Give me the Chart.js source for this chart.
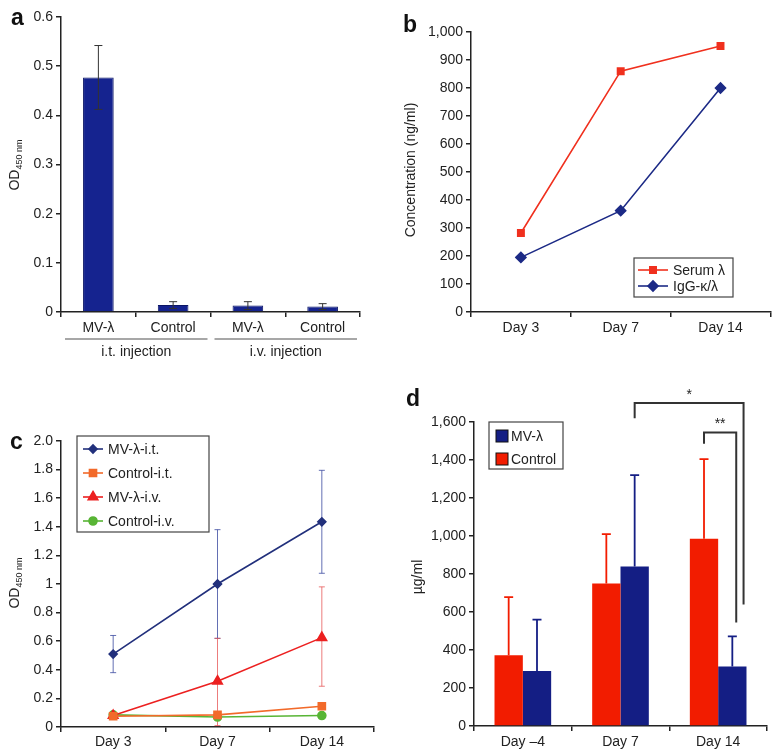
<!DOCTYPE html>
<html><head><meta charset="utf-8">
<script src="https://cdn.jsdelivr.net/npm/chart.js@4.4.1/dist/chart.umd.min.js"></script>
<style>
body{margin:0;background:#fff;width:777px;height:756px;position:relative;overflow:hidden;font-family:"Liberation Sans",Arial,sans-serif;color:#222}
canvas.panel{position:absolute}
.plabel{position:absolute;font-weight:bold;font-size:23px;color:#111;line-height:1;transform:translate(0,-50%)}
.ytitle{position:absolute;font-size:14px;line-height:1;transform:translate(-50%,-50%) rotate(-90deg);white-space:nowrap;color:#222}
.ytitle sub{font-size:9px;vertical-align:-3px}
</style></head><body>
<canvas id="ca" class="panel" style="left:0;top:0" width="390" height="370"></canvas>
<canvas id="cb" class="panel" style="left:390px;top:0" width="387" height="370"></canvas>
<canvas id="cc" class="panel" style="left:0;top:370px" width="390" height="386"></canvas>
<canvas id="cd" class="panel" style="left:390px;top:370px" width="387" height="386"></canvas>
<div class="plabel" style="left:11px;top:17px">a</div>
<div class="plabel" style="left:403px;top:24px">b</div>
<div class="plabel" style="left:10px;top:441px">c</div>
<div class="plabel" style="left:406px;top:398px">d</div>
<div class="ytitle" style="left:15px;top:165px">OD<sub>450 nm</sub></div>
<div class="ytitle" style="left:410px;top:170px">Concentration (ng/ml)</div>
<div class="ytitle" style="left:15px;top:583px">OD<sub>450 nm</sub></div>
<div class="ytitle" style="left:417px;top:577px">µg/ml</div>
<script>
// ---------- data ----------
const aCategories = ['MV-λ', 'Control', 'MV-λ', 'Control'];
const aGroups = ['i.t. injection', 'i.v. injection'];
const aValues = [0.477, 0.014, 0.013, 0.011];
const aErrors = [0.065, 0.007, 0.008, 0.006];

const bDays = ['Day 3', 'Day 7', 'Day 14'];
const bSerumLambda = [282, 860, 950];
const bIgG = [195, 362, 800];

const cDays = ['Day 3', 'Day 7', 'Day 14'];
const cMVit = [0.51, 1.0, 1.435];
const cMVitErr = [0.13, 0.38, 0.36];
const cCtrlIt = [0.075, 0.085, 0.145];
const cMViv = [0.08, 0.32, 0.625];
const cMVivErrUp = [0, 0.30, 0.355];
const cMVivErrDown = [0, 0.31, 0.34];
const cCtrlIv = [0.085, 0.07, 0.08];

const dDays = ['Day \u20134', 'Day 7', 'Day 14'];
const dControl = [372, 750, 985];
const dControlErr = [306, 260, 420];
const dMV = [290, 840, 313];
const dMVErr = [270, 480, 159];
const dSignificance = [
  {label: '*', from: 1.145, to: 2.26, fromBase: 1620, toBase: 640, top: 1700},
  {label: '**', from: 1.855, to: 2.185, fromBase: 1485, toBase: 545, top: 1545}
];

// ---------- common ----------
const FONT = {family: '"Liberation Sans", Arial, sans-serif', size: 14};
const TXT = '#222';
const AX = '#222';

function axisX(h, pad) {
  return {
    offset: true,
    grid: {offset: true, drawOnChartArea: false, tickLength: 5, color: AX, lineWidth: 1.5},
    border: {color: AX, width: 1.5},
    ticks: {font: FONT, color: TXT, padding: pad},
    afterFit: s => { s.height = h; }
  };
}
function axisY(w, min, max, step, cb) {
  const o = {
    min, max,
    grid: {drawOnChartArea: false, tickLength: 5, color: AX, lineWidth: 1.5},
    border: {color: AX, width: 1.5},
    ticks: {font: FONT, color: TXT, padding: 3, stepSize: step},
    afterFit: s => { s.width = w; }
  };
  if (cb) o.ticks.callback = cb;
  return o;
}

const errorBars = {
  id: 'errorBars',
  draw(chart) {
    const ctx = chart.ctx, ys = chart.scales.y;
    chart.data.datasets.forEach((ds, i) => {
      if (!ds.errUp) return;
      const meta = chart.getDatasetMeta(i);
      meta.data.forEach((el, j) => {
        const v = ds.data[j];
        const up = ds.errUp[j] || 0;
        const dn = ds.errDown ? (ds.errDown[j] || 0) : 0;
        if (!up && !dn) return;
        const x = el.x;
        const yT = ys.getPixelForValue(v + up), yB = ys.getPixelForValue(v - dn);
        const c = ds.capW / 2;
        ctx.save();
        ctx.strokeStyle = ds.errColor; ctx.lineWidth = ds.errWidth;
        ctx.beginPath();
        ctx.moveTo(x, yT); ctx.lineTo(x, yB);
        ctx.moveTo(x - c, yT); ctx.lineTo(x + c, yT);
        if (ds.errDown) { ctx.moveTo(x - c, yB); ctx.lineTo(x + c, yB); }
        ctx.stroke();
        ctx.restore();
      });
    });
  },
  beforeDatasetsDraw(chart, a, o) { if (o.before) this.draw(chart); },
  afterDatasetsDraw(chart, a, o) { if (!o.before) this.draw(chart); }
};

const boxLegend = {
  id: 'boxLegend',
  afterDraw(chart, a, o) {
    if (!o.order) return;
    const ctx = chart.ctx;
    ctx.save();
    ctx.fillStyle = '#fff';
    ctx.fillRect(o.x, o.y, o.w, o.h);
    ctx.strokeStyle = '#444'; ctx.lineWidth = 1.2;
    ctx.strokeRect(o.x, o.y, o.w, o.h);
    ctx.font = FONT.size + 'px ' + FONT.family;
    ctx.textBaseline = 'middle';
    o.order.forEach((di, k) => {
      const ds = chart.data.datasets[di];
      const yy = o.rows[k];
      if (o.kind === 'box') {
        ctx.fillStyle = ds.backgroundColor;
        ctx.fillRect(o.sx, yy - 6, 12, 12);
        ctx.strokeStyle = '#111'; ctx.lineWidth = 1;
        ctx.strokeRect(o.sx, yy - 6, 12, 12);
      } else {
        ctx.strokeStyle = ds.borderColor; ctx.lineWidth = ds.borderWidth;
        ctx.beginPath(); ctx.moveTo(o.sx, yy); ctx.lineTo(o.sx + o.sw, yy); ctx.stroke();
        Chart.helpers.drawPoint(ctx, {pointStyle: ds.pointStyle, radius: ds.pointRadius, borderWidth: 1, rotation: 0},
          o.sx + o.sw / 2, yy);
        ctx.fillStyle = ds.pointBackgroundColor;
        ctx.fill();
      }
      ctx.fillStyle = TXT;
      ctx.fillText(ds.label, o.tx, yy + 1);
    });
    ctx.restore();
  }
};

const groupLabels = {
  id: 'groupLabels',
  afterDraw(chart, a, o) {
    if (!o.groups) return;
    const ctx = chart.ctx, xs = chart.scales.x, ca = chart.chartArea;
    const step = xs.getPixelForValue(1) - xs.getPixelForValue(0);
    ctx.save();
    ctx.font = FONT.size + 'px ' + FONT.family;
    ctx.textAlign = 'center'; ctx.textBaseline = 'middle';
    o.groups.forEach((g, k) => {
      const x0 = xs.getPixelForValue(k * o.size) - step / 2 + 4;
      const x1 = xs.getPixelForValue(k * o.size + o.size - 1) + step / 2 - 3;
      ctx.strokeStyle = '#8a8a8a'; ctx.lineWidth = 1.5;
      ctx.beginPath(); ctx.moveTo(x0, ca.bottom + o.lineDy); ctx.lineTo(x1, ca.bottom + o.lineDy); ctx.stroke();
      ctx.fillStyle = TXT;
      ctx.fillText(g, (x0 + x1) / 2, ca.bottom + o.textDy);
    });
    ctx.restore();
  }
};

const brackets = {
  id: 'brackets',
  afterDraw(chart, a, o) {
    if (!o.items) return;
    const ctx = chart.ctx, xs = chart.scales.x, ys = chart.scales.y;
    ctx.save();
    ctx.strokeStyle = '#333'; ctx.lineWidth = 2;
    ctx.font = FONT.size + 'px ' + FONT.family;
    ctx.textAlign = 'center'; ctx.textBaseline = 'bottom'; ctx.fillStyle = '#222';
    o.items.forEach(b => {
      const x0 = xs.getPixelForValue(b.from), x1 = xs.getPixelForValue(b.to);
      const yt = ys.getPixelForValue(b.top);
      ctx.beginPath();
      ctx.moveTo(x0, ys.getPixelForValue(b.fromBase));
      ctx.lineTo(x0, yt); ctx.lineTo(x1, yt);
      ctx.lineTo(x1, ys.getPixelForValue(b.toBase));
      ctx.stroke();
      ctx.fillText(b.label, (x0 + x1) / 2, yt - 1);
    });
    ctx.restore();
  }
};

Chart.register(errorBars, boxLegend, groupLabels, brackets);
Chart.defaults.font.family = FONT.family;
Chart.defaults.animation = false;
Chart.defaults.responsive = false;
Chart.defaults.plugins.legend.display = false;
Chart.defaults.plugins.tooltip.enabled = false;

const r1 = v => { const r = Math.round(v * 10) / 10; return r === 0 ? '0' : (r === 1 ? '1' : r.toFixed(1)); };

// ---------- a ----------
new Chart(document.getElementById('ca'), {
  type: 'bar',
  data: {labels: aCategories, datasets: [{
    data: aValues, backgroundColor: '#15238f', borderColor: '#0b1565', borderWidth: 1,
    categoryPercentage: 1, barPercentage: 0.41,
    errUp: aErrors, errDown: aErrors, errColor: '#333', errWidth: 1, capW: 8
  }]},
  options: {
    layout: {padding: {top: 17, right: 30, left: 0, bottom: 0}},
    plugins: {groupLabels: {groups: aGroups, size: 2, lineDy: 27, textDy: 40}},
    scales: {x: axisX(58, 3), y: axisY(61, 0, 0.6, 0.1, v => { const r = Math.round(v * 10) / 10; return r === 0 ? '0' : String(r); })}
  }
});

// ---------- b ----------
new Chart(document.getElementById('cb'), {
  type: 'line',
  data: {labels: bDays, datasets: [
    {label: 'Serum λ', data: bSerumLambda, borderColor: '#f0301e', backgroundColor: '#f0301e',
     pointBackgroundColor: '#f0301e', pointBorderColor: '#f0301e', pointStyle: 'rect', pointRadius: 4.5, borderWidth: 1.6},
    {label: 'IgG-κ/λ', data: bIgG, borderColor: '#1c2a86', backgroundColor: '#1c2a86',
     pointBackgroundColor: '#1c2a86', pointBorderColor: '#1c2a86', pointStyle: 'rectRot', pointRadius: 5, borderWidth: 1.6}
  ]},
  options: {
    layout: {padding: {top: 32, right: 5, left: 0, bottom: 0}},
    plugins: {boxLegend: {order: [0, 1], x: 244, y: 258, w: 99, h: 39, rows: [270, 286], sx: 248, sw: 30, tx: 283}},
    scales: {x: axisX(58, 3), y: axisY(81, 0, 1000, 100)}
  }
});

// ---------- c ----------
new Chart(document.getElementById('cc'), {
  type: 'line',
  data: {labels: cDays, datasets: [
    {label: 'MV-λ-i.t.', data: cMVit, borderColor: '#22307c', pointBackgroundColor: '#22307c', pointBorderColor: '#22307c',
     pointStyle: 'rectRot', pointRadius: 4, borderWidth: 1.6,
     errUp: cMVitErr, errDown: cMVitErr, errColor: 'rgba(60,75,160,0.8)', errWidth: 1, capW: 6},
    {label: 'Control-i.t.', data: cCtrlIt, borderColor: '#f26a2a', pointBackgroundColor: '#f26a2a', pointBorderColor: '#f26a2a',
     pointStyle: 'rect', pointRadius: 5, borderWidth: 1.6},
    {label: 'MV-λ-i.v.', data: cMViv, borderColor: '#ec2020', pointBackgroundColor: '#ec2020', pointBorderColor: '#ec2020',
     pointStyle: 'triangle', pointRadius: 5.5, borderWidth: 1.6,
     errUp: cMVivErrUp, errDown: cMVivErrDown, errColor: 'rgba(230,80,80,0.75)', errWidth: 1, capW: 6},
    {label: 'Control-i.v.', data: cCtrlIv, borderColor: '#58b535', pointBackgroundColor: '#58b535', pointBorderColor: '#58b535',
     pointStyle: 'circle', pointRadius: 4, borderWidth: 1.6}
  ]},
  options: {
    layout: {padding: {top: 71, right: 16, left: 0, bottom: 0}},
    plugins: {
      errorBars: {before: true},
      boxLegend: {order: [0, 1, 2, 3], x: 77, y: 66, w: 132, h: 96, rows: [79, 103, 127, 151], sx: 83, sw: 20, tx: 108}
    },
    scales: {x: axisX(29, 2), y: axisY(61, 0, 2, 0.2, r1)}
  }
});

// ---------- d ----------
new Chart(document.getElementById('cd'), {
  type: 'bar',
  data: {labels: dDays, datasets: [
    {label: 'Control', data: dControl, backgroundColor: '#f21c00', borderWidth: 0,
     categoryPercentage: 0.58, barPercentage: 1, errUp: dControlErr, errColor: '#f21c00', errWidth: 1.8, capW: 9},
    {label: 'MV-λ', data: dMV, backgroundColor: '#141e84', borderWidth: 0,
     categoryPercentage: 0.58, barPercentage: 1, errUp: dMVErr, errColor: '#141e84', errWidth: 1.8, capW: 9}
  ]},
  options: {
    layout: {padding: {top: 52, right: 10, left: 0, bottom: 0}},
    plugins: {
      boxLegend: {kind: 'box', order: [1, 0], x: 99, y: 52, w: 74, h: 47, rows: [66, 89], sx: 106, sw: 12, tx: 121},
      brackets: {items: dSignificance}
    },
    scales: {x: axisX(30, 3), y: axisY(84, 0, 1600, 200)}
  }
});
</script>
</body></html>
